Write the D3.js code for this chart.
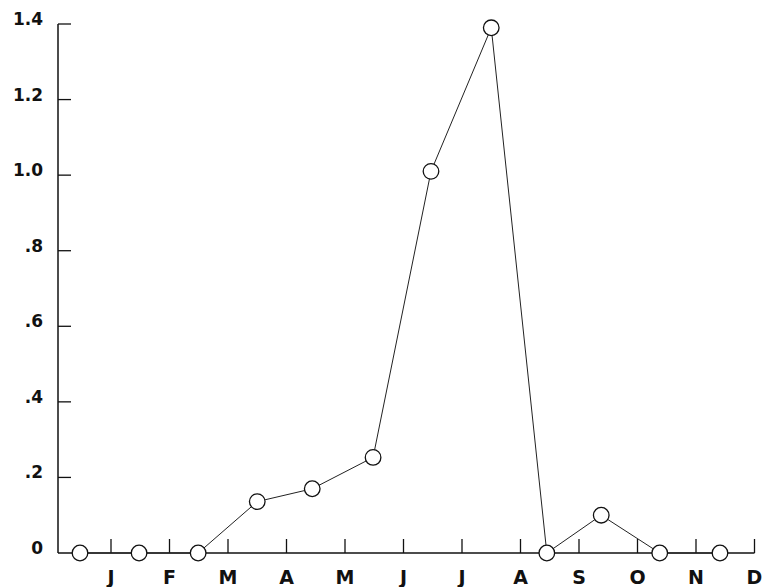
<!DOCTYPE html>
<html>
<head>
<meta charset="utf-8">
<script src="https://cdn.jsdelivr.net/npm/d3@7"></script>
<style>
  body { margin: 0; background: #fff; }
  text { font-family: "DejaVu Sans", "Liberation Sans", sans-serif; font-weight: bold; fill: #111; }
</style>
</head>
<body>
<div id="chart"></div>
<script>
// month labels sit under the month-end ticks
const months = ['J', 'F', 'M', 'A', 'M', 'J', 'J', 'A', 'S', 'O', 'N', 'D'];
// sampling position in months from start of year
const samplePos = [0.47, 1.48, 2.49, 3.50, 4.44, 5.48, 6.47, 7.50, 8.45, 9.38, 10.38, 11.41];
const values = [0, 0, 0, 0.136, 0.17, 0.253, 1.01, 1.39, 0, 0.10, 0, 0];
const yTicks = [0, 0.2, 0.4, 0.6, 0.8, 1.0, 1.2, 1.4];
const yTickLabels = ['0', '.2', '.4', '.6', '.8', '1.0', '1.2', '1.4'];

const W = 766, H = 587;
const axisX = 58;

const svg = d3.select('#chart').append('svg')
    .attr('width', W)
    .attr('height', H);

let x = d3.scaleLinear().domain([0, 12]).range([52.5, 754.5]);
let y = d3.scaleLinear().domain([0, 1.4]).range([553, 24]);

// y axis
svg.append('line')
    .attr('x1', axisX).attr('x2', axisX)
    .attr('y1', y(0)).attr('y2', y(1.4))
    .attr('stroke', '#111').attr('stroke-width', 1.5);

svg.selectAll('.ytick')
    .data(yTicks.slice(1))
    .join('line')
    .attr('class', 'ytick')
    .attr('x1', axisX).attr('x2', axisX + 13)
    .attr('y1', d => y(d)).attr('y2', d => y(d))
    .attr('stroke', '#111').attr('stroke-width', 1.3);

svg.selectAll('.ylab')
    .data(yTicks)
    .join('text')
    .attr('class', 'ylab')
    .attr('x', 43)
    .attr('y', d => y(d) + 1)
    .attr('text-anchor', 'end')
    .style('font-size', '17px')
    .text((d, i) => yTickLabels[i]);

// x axis
svg.append('line')
    .attr('x1', axisX).attr('x2', x(12))
    .attr('y1', y(0)).attr('y2', y(0))
    .attr('stroke', '#111').attr('stroke-width', 1.3);

svg.selectAll('.xtick')
    .data(months)
    .join('line')
    .attr('class', 'xtick')
    .attr('x1', (d, i) => x(i + 1)).attr('x2', (d, i) => x(i + 1))
    .attr('y1', y(0)).attr('y2', y(0) - 14)
    .attr('stroke', '#111').attr('stroke-width', 1.3);

svg.selectAll('.xlab')
    .data(months)
    .join('text')
    .attr('class', 'xlab')
    .attr('x', (d, i) => x(i + 1))
    .attr('y', 584)
    .attr('text-anchor', 'middle')
    .style('font-size', '19px')
    .text(d => d);

// series
let pts = values.map((v, i) => [samplePos[i], v]);

svg.append('path')
    .datum(pts)
    .attr('d', d3.line().x(d => x(d[0])).y(d => y(d[1])))
    .attr('fill', 'none')
    .attr('stroke', '#222')
    .attr('stroke-width', 1);

svg.selectAll('circle')
    .data(pts)
    .join('circle')
    .attr('cx', d => x(d[0]))
    .attr('cy', d => y(d[1]))
    .attr('r', 7.8)
    .attr('fill', 'white')
    .attr('stroke', '#111')
    .attr('stroke-width', 1.3);
</script>
</body>
</html>
